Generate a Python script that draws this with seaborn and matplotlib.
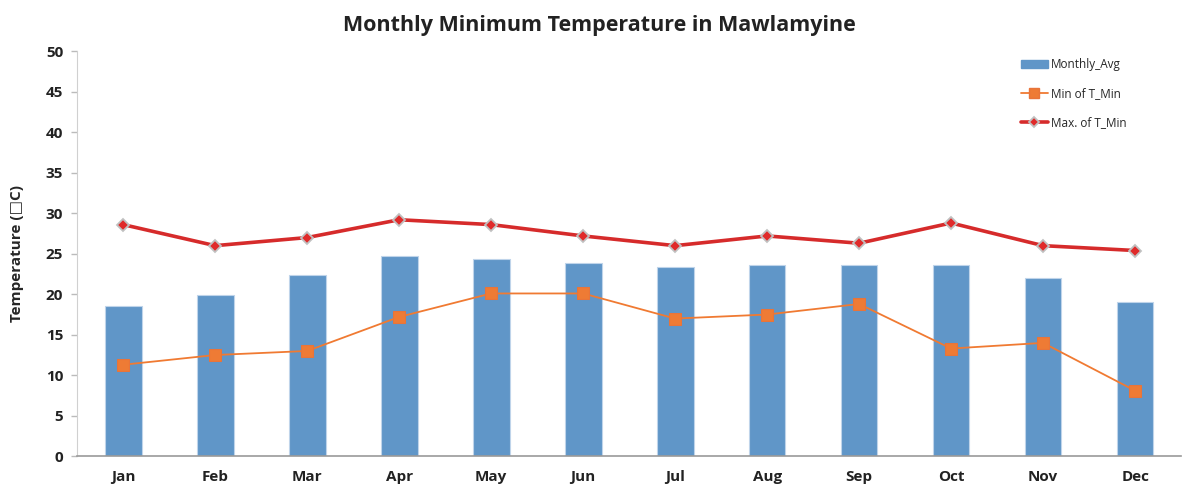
import numpy as np
import pandas as pd
import matplotlib
matplotlib.use("Agg")
import matplotlib.pyplot as plt
import seaborn as sns
from matplotlib.lines import Line2D
from matplotlib.patches import Patch

# data
months = ["Jan", "Feb", "Mar", "Apr", "May", "Jun",
          "Jul", "Aug", "Sep", "Oct", "Nov", "Dec"]
monthly_avg = [18.6, 19.9, 22.4, 24.7, 24.3, 23.8, 23.4, 23.6, 23.6, 23.6, 22.0, 19.0]
min_t_min = [11.3, 12.5, 13.0, 17.2, 20.1, 20.1, 17.0, 17.5, 18.8, 13.3, 14.0, 8.1]
max_t_min = [28.6, 26.0, 27.0, 29.2, 28.6, 27.2, 26.0, 27.2, 26.3, 28.8, 26.0, 25.4]

df = pd.DataFrame({"month": months, "pos": np.arange(len(months)),
                   "avg": monthly_avg, "tmin": min_t_min, "tmax": max_t_min})

sns.set_style("white")
plt.rcParams["font.family"] = ["Open Sans", "DejaVu Sans"]

fig, ax = plt.subplots(figsize=(11.87, 4.88), dpi=100)
fig.subplots_adjust(left=0.065, right=0.995, top=0.895, bottom=0.065)

bar_col = "#6096C8"
sns.barplot(data=df, x="month", y="avg", color=bar_col, width=0.4,
            saturation=1, edgecolor="#BFD4EA", linewidth=0.8, ax=ax)

sns.lineplot(data=df, x="pos", y="tmin", color="#F07A32", linewidth=1.3,
             marker="s", markersize=8, markeredgecolor="#E8743A",
             markerfacecolor="#EE7B35", ax=ax)
sns.lineplot(data=df, x="pos", y="tmax", color="#D62B2B", linewidth=2.6,
             marker="D", markersize=6, markeredgecolor="#C0C0C0",
             markeredgewidth=1.3, markerfacecolor="#E02A2A", ax=ax)

ax.set_xlim(-0.5, len(months) - 0.5)
ax.set_ylim(0, 50)
ax.set_yticks(range(0, 51, 5))
ax.set_xticks(np.arange(len(months)))
ax.set_xticklabels(months, fontsize=11, fontweight="bold", color="#222222")
for lab in ax.get_yticklabels():
    lab.set_fontsize(11)
    lab.set_fontweight("bold")
    lab.set_color("#222222")

# category boundary ticks on the x axis
ax.set_xticks(np.arange(-0.5, len(months), 1), minor=True)
ax.tick_params(axis="x", which="major", length=0, pad=10)
ax.tick_params(axis="x", which="minor", length=5, color="#999999", width=1)
ax.tick_params(axis="y", which="major", length=4, color="#BBBBBB", width=1, left=True, pad=6)

for side in ["top", "right"]:
    ax.spines[side].set_visible(False)
ax.spines["left"].set_color("#D0D0D0")
ax.spines["bottom"].set_color("#999999")
ax.spines["bottom"].set_linewidth(1.2)
ax.grid(False)

ax.set_xlabel("")
ax.set_ylabel("Temperature (\u25a1C)", fontsize=11, fontweight="bold", labelpad=16)
fig.suptitle("Monthly Minimum Temperature in Mawlamyine", x=0.505, y=0.97,
             fontsize=15.5, fontweight="bold", color="#222222")

handles = [
    Patch(facecolor=bar_col, edgecolor=bar_col),
    Line2D([], [], color="#F07A32", linewidth=1.3, marker="s", markersize=7,
           markerfacecolor="#EE7B35", markeredgecolor="#E8743A"),
    Line2D([], [], color="#D62B2B", linewidth=2.6, marker="D", markersize=5,
           markerfacecolor="#E02A2A", markeredgecolor="#C0C0C0", markeredgewidth=1.3),
]
labels = ["Monthly_Avg", "Min of T_Min", "Max. of T_Min"]
ax.legend(handles, labels, loc="upper left", bbox_to_anchor=(0.845, 1.01),
          frameon=False, fontsize=8.5, labelspacing=1.35, handlelength=2.3,
          handletextpad=0.3)

fig.savefig("out.png", dpi=100)
